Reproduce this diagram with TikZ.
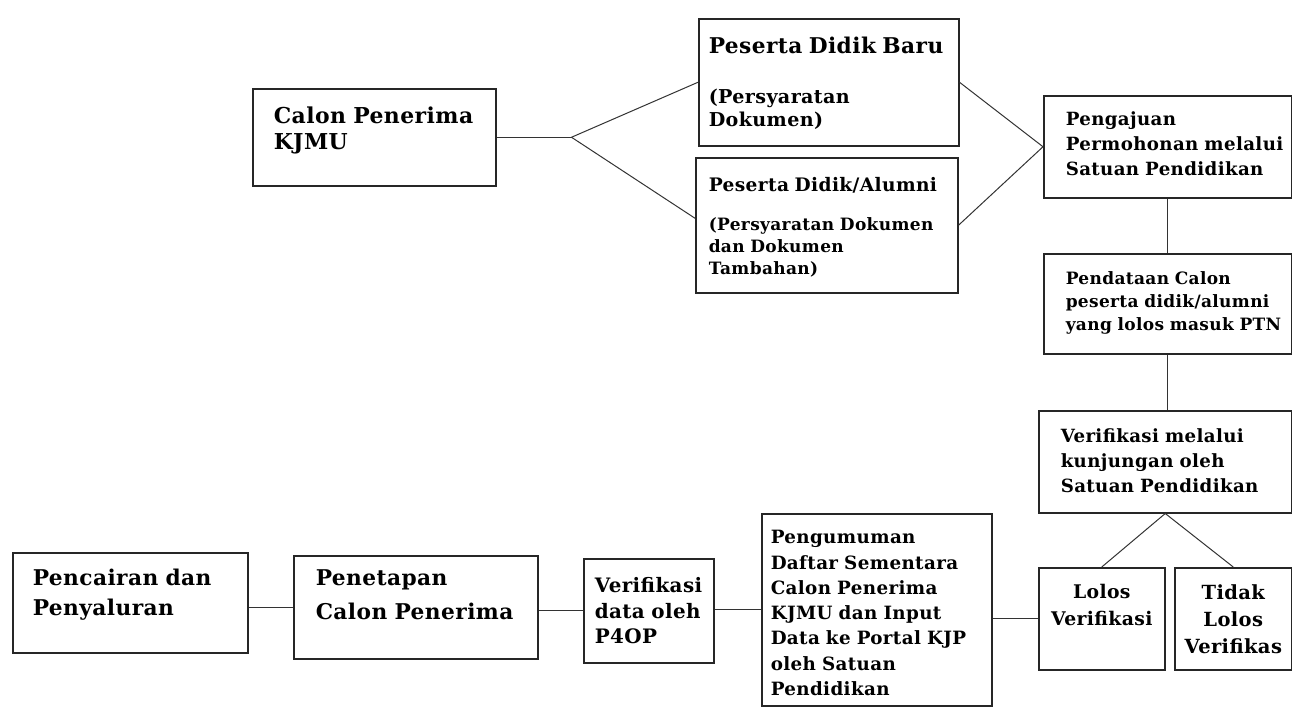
\documentclass[tikz,border=0pt]{standalone}
\usepackage{fontspec}
\newfontfamily\diagfont{DejaVu Serif}[LetterSpace=2]
\usepackage{tikz}
\usetikzlibrary{calc}
\newcommand{\boxfont}[2]{\diagfont\bfseries\fontsize{#1}{#2}\selectfont}
\hyphenpenalty=10000
\exhyphenpenalty=10000
\tikzset{
  process/.style={
    rectangle,
    draw=black!85,
    line width=1.5pt,
    anchor=north west,
    inner ysep=0pt,
    align=left,
    font=\boxfont{18.2}{25}
    },
  link/.style={line width=1pt, draw=black!80},
}

\begin{document}
\begin{tikzpicture}[x=1pt,y=-1pt]
\useasboundingbox (0,0) rectangle (1292,713);

\node (calon) [process, font=\boxfont{21.9}{26}, inner xsep=21pt, text width=201pt, text height=35pt, text depth=62pt] at (252,88) {Calon~Penerima\\KJMU};
\node (pesertabaru) [process, font=\boxfont{19.1}{23}, inner xsep=10pt, text width=240pt, text height=35pt, text depth=92pt] at (698,18) {\boxfont{21.7}{23}Peserta~Didik~Baru\\[27pt]\boxfont{19.1}{23}(Persyaratan\\Dokumen)};
\node (pesertaalumni) [process, font=\boxfont{17}{22}, inner xsep=13pt, text width=236pt, text height=34pt, text depth=101pt] at (695,157) {\boxfont{18.6}{22}Peserta~Didik/Alumni\\[17pt]\boxfont{17}{22}(Persyaratan~Dokumen\\dan~Dokumen\\Tambahan)};
\node (pengajuan) [process, inner xsep=22pt, text width=204pt, text height=30pt, text depth=72pt] at (1043,95) {Pengajuan\\Permohonan~melalui\\Satuan~Pendidikan};
\node (pendataan) [process, font=\boxfont{17}{23}, inner xsep=22pt, text width=204pt, text height=31pt, text depth=69pt] at (1043,253) {Pendataan~Calon\\peserta~didik/alumni\\yang~lolos~masuk~PTN};
\node (verkunjungan) [process, inner xsep=22pt, text width=209pt, text height=32pt, text depth=70pt] at (1038,410) {Verifikasi~melalui\\kunjungan~oleh\\Satuan~Pendidikan};
\node (lolos) [process, align=center, font=\boxfont{18.8}{27}, inner xsep=4pt, text width=118pt, text height=31pt, text depth=71pt] at (1038,567) {Lolos\\Verifikasi};
\node (tidaklolos) [process, align=center, font=\boxfont{19.5}{27}, inner xsep=4pt, text width=109pt, text height=32pt, text depth=70pt] at (1174,567) {Tidak\\Lolos\\Verifikas};
\node (pengumuman) [process, font=\boxfont{18.3}{25.3}, inner xsep=9pt, text width=212pt, text height=30pt, text depth=162pt] at (761,513) {Pengumuman\\Daftar~Sementara\\Calon~Penerima\\KJMU~dan~Input\\Data~ke~Portal~KJP\\oleh~Satuan\\Pendidikan};
\node (verdata) [process, font=\boxfont{19.9}{25.5}, inner xsep=11pt, text width=108pt, text height=34pt, text depth=70pt] at (583,558) {Verifikasi\\data~oleh\\P4OP};
\node (penetapan) [process, font=\boxfont{21.7}{34}, inner xsep=22pt, text width=200pt, text height=30pt, text depth=73pt] at (293,555) {Penetapan\\Calon~Penerima};
\node (pencairan) [process, font=\boxfont{21.7}{30}, inner xsep=20pt, text width=195pt, text height=33pt, text depth=67pt] at (12,552) {Pencairan~dan\\Penyaluran};

\coordinate (cabang) at ($(calon.east)+(75,0)$);

\draw [link] (calon.east) -- (cabang);
\draw [link] (cabang) -- (pesertabaru.west);
\draw [link] (cabang) -- ([yshift=7pt]pesertaalumni.west);
\draw [link] (pesertabaru.east) -- (pengajuan.west);
\draw [link] (pesertaalumni.east) -- (pengajuan.west);
\draw [link] (pengajuan.south) -- (pendataan.north);
\draw [link] (pendataan.south) -- (pendataan.south |- verkunjungan.north);
\draw [link] (lolos.north) -- (verkunjungan.south) -- (tidaklolos.north);
\draw [link] (lolos.west) -- (lolos.west -| pengumuman.east);
\draw [link] (pengumuman.west) -- (pengumuman.west -| verdata.east);
\draw [link] (verdata.west) -- (verdata.west -| penetapan.east);
\draw [link] (penetapan.west) -- (penetapan.west -| pencairan.east);

\end{tikzpicture}
\end{document}
